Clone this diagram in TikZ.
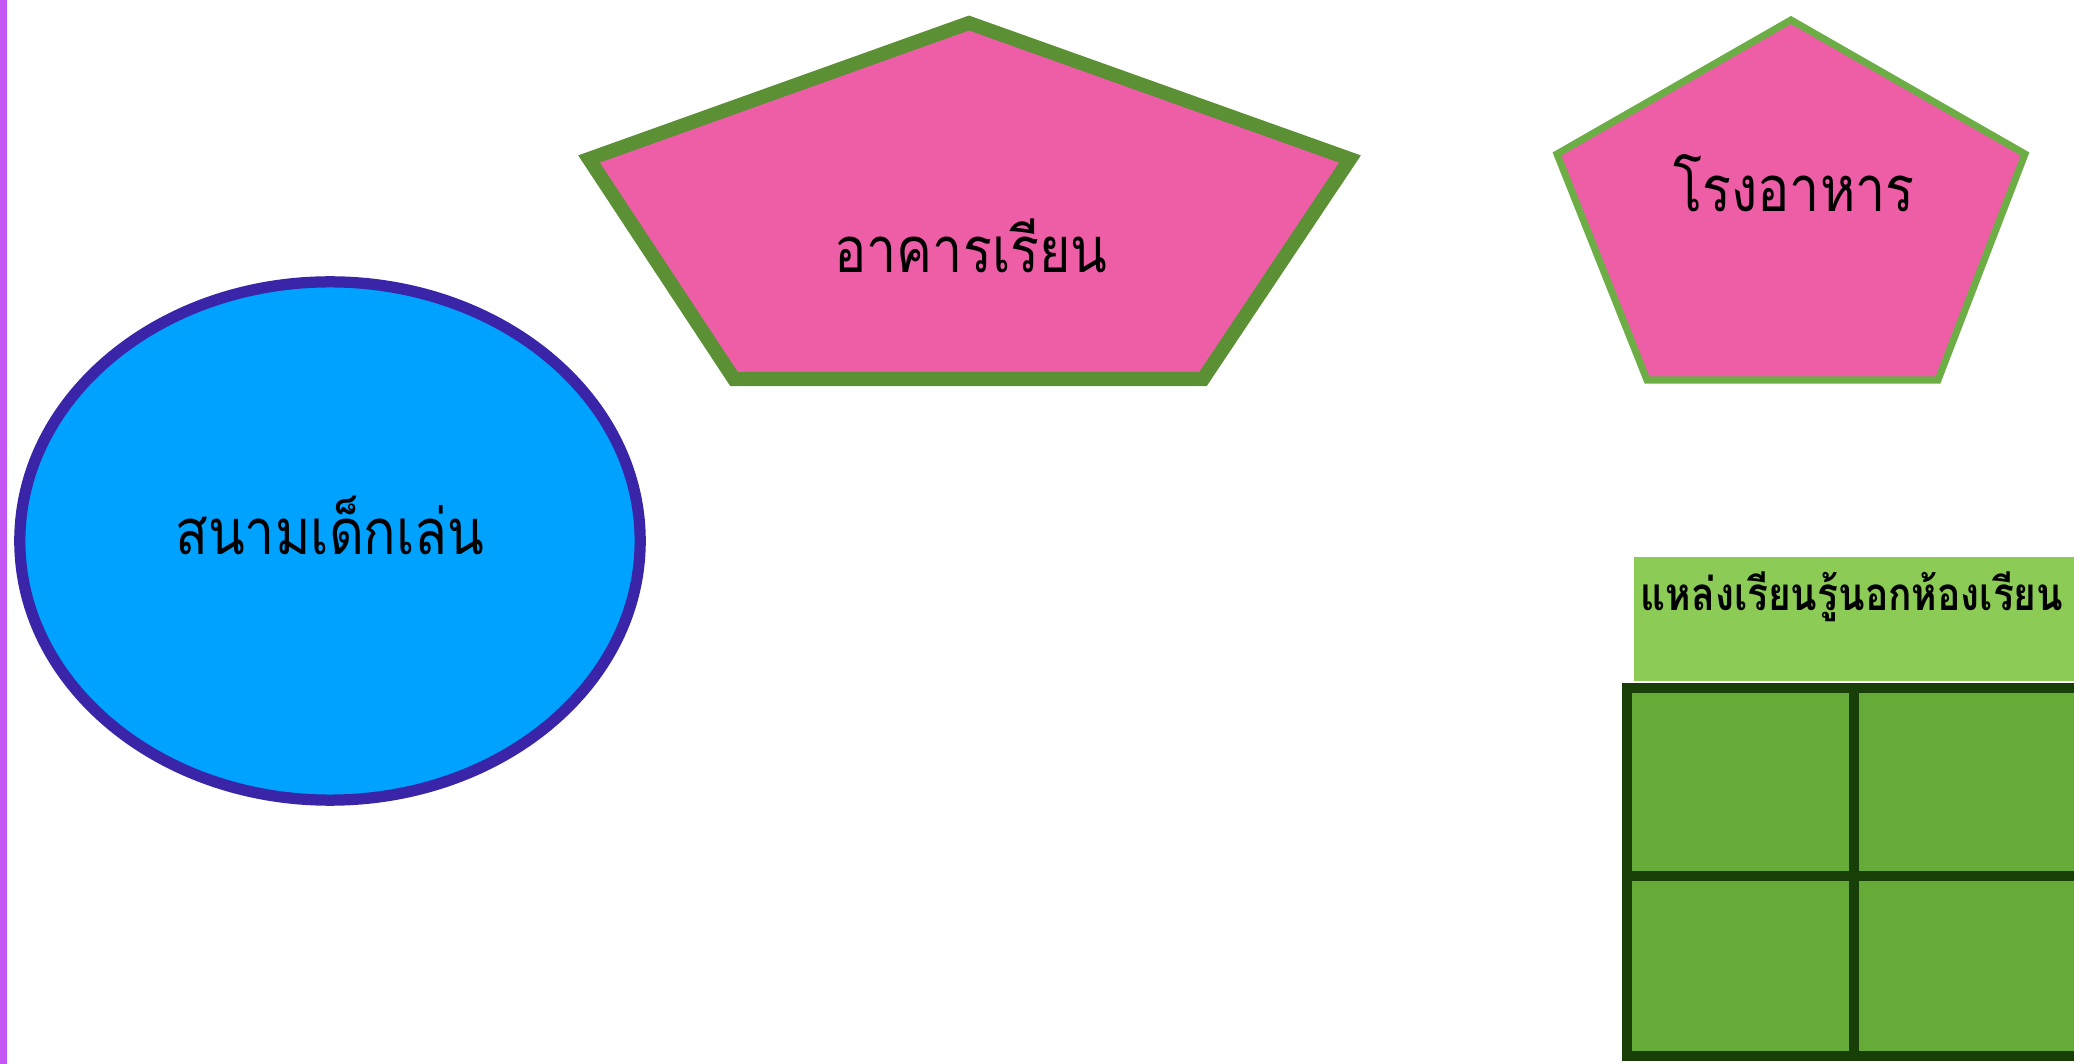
\documentclass[tikz,border=0pt]{standalone}
\usepackage{fontspec}
\newfontfamily\thaifont[Script=Thai, FakeStretch=0.85]{Loma}
\usetikzlibrary{shapes.geometric, positioning}
\definecolor{edgepurple}{HTML}{C455F2}
\definecolor{skyfill}{HTML}{00A2FF}
\definecolor{indigoline}{HTML}{3A25A8}
\definecolor{pinkfill}{HTML}{EE5EA7}
\definecolor{olivegreen}{HTML}{5B9034}
\definecolor{lightolive}{HTML}{6CAE45}
\definecolor{headfill}{HTML}{8BCB56}
\definecolor{gridfill}{HTML}{66AA38}
\definecolor{gridline}{HTML}{173F07}
\tikzstyle{bigtext} = [font=\thaifont\fontsize{18}{22}\selectfont, text=black]
\tikzstyle{headtext} = [font=\thaifont\bfseries\fontsize{13}{16}\selectfont, text=black]
\tikzstyle{bldg} = [draw, fill=pinkfill, line join=miter]
\tikzstyle{cell} = [draw=gridline, line width=2.6pt]

\begin{document}
\begin{tikzpicture}[x=0.01cm, y=-0.01cm]
\useasboundingbox (0,0) rectangle (2074,1064);
\fill[white] (0,0) rectangle (2074,1064);
\fill[edgepurple] (0,0) rectangle (7,1064);

% playground
\node (play) [ellipse, draw=indigoline, line width=3.2pt, fill=skyfill, minimum width=6.2cm, minimum height=5.18cm] at (330,541) {};
\node (playtext) [bigtext] at (330,525) {สนามเด็กเล่น};

% school building
\draw[bldg, draw=olivegreen, line width=4pt] (969,23) -- (1350,159) -- (1203,379) -- (734,379) -- (589,159) -- cycle;
\node (school) [bigtext] at (971,246) {อาคารเรียน};

% canteen
\draw[bldg, draw=lightolive, line width=2pt] (1791,20) -- (2025,154) -- (1938,380) -- (1647,380) -- (1557,154) -- cycle;
\node (canteen) [bigtext] at (1794,183) {โรงอาหาร};

% outdoor learning
\fill[headfill] (1634,557) rectangle (2074,681);
\node (outdoor) [headtext, anchor=west, inner sep=0pt] at (1640,597) {แหล่งเรียนรู้นอกห้องเรียน};
\fill[gridfill] (1627,688) rectangle (2074,1056);
\draw[cell] (2090,688) -- (1627,688) -- (1627,1056) -- (2090,1056);
\draw[cell] (1854,688) -- (1854,1056);
\draw[cell] (1627,876) -- (2090,876);
\end{tikzpicture}
\end{document}
